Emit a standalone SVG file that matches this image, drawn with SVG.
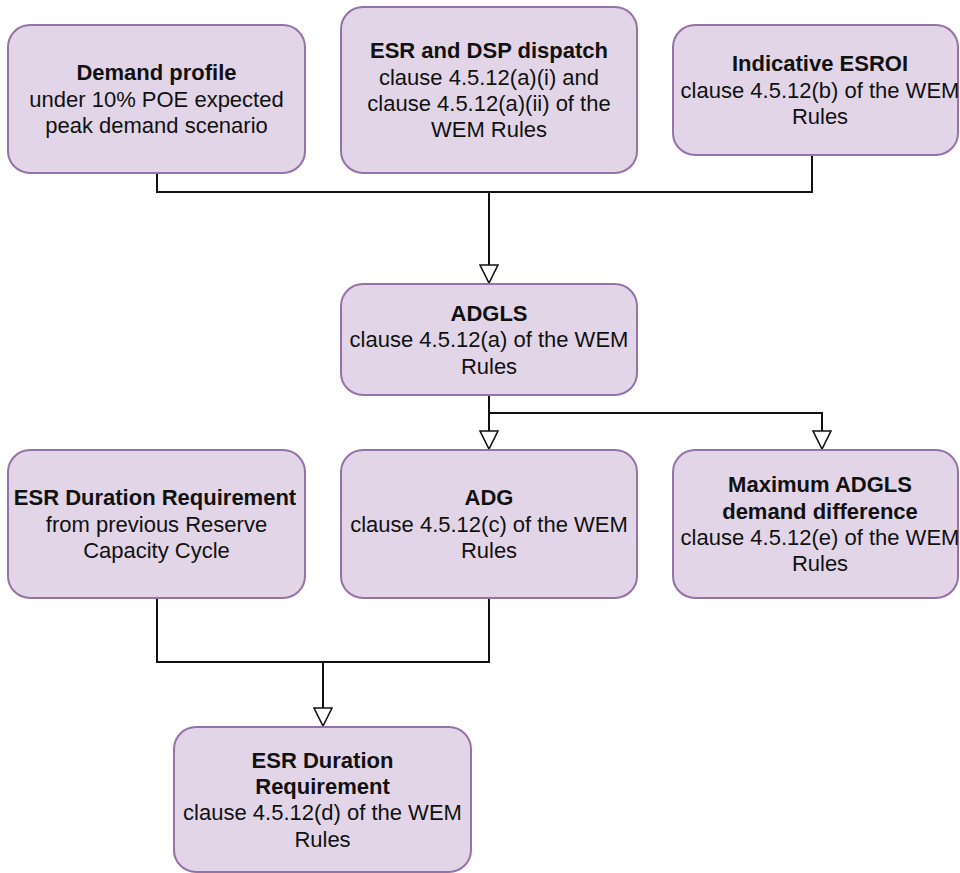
<svg xmlns="http://www.w3.org/2000/svg" width="960" height="873" viewBox="0 0 960 873">
<defs>
<style>
.box{fill:#e1d5e7;stroke:#9673a6;stroke-width:2}
.t{font-family:"Liberation Sans",Arial,sans-serif;font-size:22px;fill:#111;text-anchor:middle}
.b{font-weight:bold}
.c{fill:none;stroke:#111;stroke-width:2}
</style>
<marker id="arr" viewBox="0 0 20 20" markerWidth="20" markerHeight="20" markerUnits="userSpaceOnUse" refX="19" refY="10" orient="auto">
<path d="M1,1 L19,10 L1,19 Z" fill="#fff" stroke="#111" stroke-width="1.6"/>
</marker>
</defs>
<rect width="960" height="873" fill="#fff"/>
<g id="connectors">
<path class="c" d="M157,173 V192 H812 V155"/>
<path class="c" d="M489,192 V283" marker-end="url(#arr)"/>
<path class="c" d="M489,395 V449" marker-end="url(#arr)"/>
<path class="c" d="M489,413 H822 V449" marker-end="url(#arr)"/>
<path class="c" d="M157,598 V662 H489 V598"/>
<path class="c" d="M323,662 V726" marker-end="url(#arr)"/>
</g>
<g id="demand-profile">
<rect class="box" x="8" y="25" width="297" height="148" rx="22"/>
<text class="t b" x="156.5" y="80.3">Demand profile</text>
<text class="t" x="156.5" y="106.7">under 10% POE expected</text>
<text class="t" x="156.5" y="133.1">peak demand scenario</text>
</g>
<g id="esr-dsp-dispatch">
<rect class="box" x="341" y="7" width="296" height="166" rx="22"/>
<text class="t b" x="489" y="58.1">ESR and DSP dispatch</text>
<text class="t" x="489" y="84.5">clause 4.5.12(a)(i) and</text>
<text class="t" x="489" y="110.9">clause 4.5.12(a)(ii) of the</text>
<text class="t" x="489" y="137.3">WEM Rules</text>
</g>
<g id="indicative-esroi">
<rect class="box" x="673" y="25" width="285" height="130" rx="22"/>
<text class="t b" x="820" y="71.3">Indicative ESROI</text>
<text class="t" x="820" y="97.7">clause 4.5.12(b) of the WEM</text>
<text class="t" x="820" y="124.1">Rules</text>
</g>
<g id="adgls">
<rect class="box" x="341" y="284" width="296" height="111" rx="22"/>
<text class="t b" x="489" y="320.8">ADGLS</text>
<text class="t" x="489" y="347.2">clause 4.5.12(a) of the WEM</text>
<text class="t" x="489" y="373.6">Rules</text>
</g>
<g id="esr-duration-previous">
<rect class="box" x="8" y="450" width="297" height="148" rx="22"/>
<text class="t b" x="155" y="505.3">ESR Duration Requirement</text>
<text class="t" x="156.5" y="531.7">from previous Reserve</text>
<text class="t" x="156.5" y="558.1">Capacity Cycle</text>
</g>
<g id="adg">
<rect class="box" x="341" y="450" width="296" height="148" rx="22"/>
<text class="t b" x="489" y="505.3">ADG</text>
<text class="t" x="489" y="531.7">clause 4.5.12(c) of the WEM</text>
<text class="t" x="489" y="558.1">Rules</text>
</g>
<g id="max-adgls-difference">
<rect class="box" x="673" y="450" width="285" height="148" rx="22"/>
<text class="t b" x="820" y="492.1">Maximum ADGLS</text>
<text class="t b" x="820" y="518.5">demand difference</text>
<text class="t" x="820" y="544.9">clause 4.5.12(e) of the WEM</text>
<text class="t" x="820" y="571.3">Rules</text>
</g>
<g id="esr-duration-requirement">
<rect class="box" x="174" y="727" width="297" height="145" rx="22"/>
<text class="t b" x="322.5" y="767.6">ESR Duration</text>
<text class="t b" x="322.5" y="794">Requirement</text>
<text class="t" x="322.5" y="820.4">clause 4.5.12(d) of the WEM</text>
<text class="t" x="322.5" y="846.8">Rules</text>
</g>
</svg>
